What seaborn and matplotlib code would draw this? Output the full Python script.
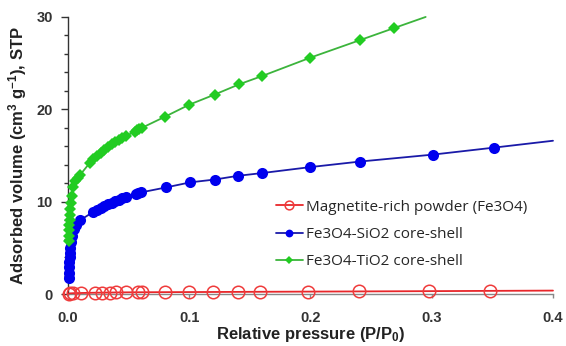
import matplotlib
matplotlib.use("Agg")
import matplotlib.pyplot as plt
import seaborn as sns
from matplotlib.ticker import MultipleLocator

# Datos (isotermas de adsorcion)
# Magnetita (Fe3O4)
x_fe = [0.0005, 0.0015, 0.0044, 0.011, 0.022, 0.028, 0.035, 0.040, 0.048,
        0.058, 0.061, 0.080, 0.100, 0.120, 0.140, 0.158, 0.198, 0.240, 0.298, 0.348, 0.400]
y_fe = [0.05, 0.08, 0.10, 0.12, 0.15, 0.16, 0.17, 0.18, 0.19,
        0.20, 0.20, 0.21, 0.22, 0.23, 0.24, 0.25, 0.27, 0.29, 0.32, 0.35, 0.38]

# Fe3O4-SiO2
x_si = [0.0006, 0.0008, 0.0010, 0.0012, 0.0014, 0.0016, 0.0018, 0.0022, 0.003, 0.005,
        0.007, 0.010, 0.021, 0.024, 0.027, 0.030, 0.033, 0.036, 0.039, 0.042,
        0.045, 0.048, 0.056, 0.058, 0.060, 0.081, 0.101, 0.121, 0.140, 0.160,
        0.200, 0.241, 0.301, 0.351, 0.400]
y_si = [1.7, 2.3, 2.9, 3.5, 4.0, 4.5, 5.0, 5.6, 6.3, 7.0,
        7.5, 8.0, 8.9, 9.1, 9.3, 9.5, 9.7, 9.9, 10.05, 10.2,
        10.35, 10.5, 10.8, 10.9, 11.0, 11.55, 12.1, 12.4, 12.8, 13.1,
        13.75, 14.35, 15.1, 15.85, 16.6]

# Fe3O4-TiO2
x_ti = [0.0006, 0.0008, 0.0010, 0.0012, 0.0014, 0.0017, 0.0020, 0.0025, 0.0032, 0.0044,
        0.006, 0.008, 0.010, 0.018, 0.021, 0.024, 0.027, 0.030, 0.033, 0.036,
        0.039, 0.042, 0.045, 0.048, 0.055, 0.057, 0.059, 0.061, 0.080, 0.100,
        0.121, 0.141, 0.160, 0.200, 0.241, 0.269, 0.295]
y_ti = [5.8, 6.3, 6.9, 7.5, 8.0, 8.6, 9.2, 9.9, 10.6, 11.6,
        12.2, 12.6, 12.9, 14.2, 14.6, 14.95, 15.3, 15.6, 15.9, 16.2,
        16.45, 16.7, 16.9, 17.1, 17.6, 17.75, 17.85, 18.0, 19.2, 20.5,
        21.6, 22.7, 23.6, 25.6, 27.5, 28.8, 30.0]

etiquetas = ['Magnetite-rich powder (Fe3O4)', 'Fe3O4-SiO2 core-shell', 'Fe3O4-TiO2 core-shell']
xticks = [0.0, 0.1, 0.2, 0.3, 0.4]
xtick_labels = ['0.0', '0.1', '0.2', '0.3', '0.4']
yticks = [0, 10, 20, 30]

sns.set_style("white")
plt.rcParams['font.family'] = ['Liberation Sans', 'DejaVu Sans']
plt.rcParams['mathtext.default'] = 'regular'

fig = plt.figure(figsize=(5.66, 3.46), dpi=100)
ax = fig.add_axes([0.120, 0.150, 0.857, 0.801])

# el ultimo punto de cada serie es solo el final de la linea, sin marcador
sns.lineplot(x=x_fe, y=y_fe, ax=ax, color='#e8262a', lw=1.3, marker='o', markersize=9,
             markerfacecolor='none', markeredgecolor='#ef3b3b', markeredgewidth=1.1,
             markevery=list(range(len(x_fe) - 1)), sort=False, estimator=None,
             label=etiquetas[0], clip_on=False, zorder=3)
sns.lineplot(x=x_si, y=y_si, ax=ax, color='#1a1aa8', lw=1.3, marker='o', markersize=8,
             markerfacecolor='#0000ee', markeredgecolor='#0000ee', markeredgewidth=0,
             markevery=list(range(len(x_si) - 1)), sort=False, estimator=None,
             label=etiquetas[1], clip_on=False, zorder=3)
sns.lineplot(x=x_ti, y=y_ti, ax=ax, color='#3cb43c', lw=1.3, marker='D', markersize=6.5,
             markerfacecolor='#22cc22', markeredgecolor='#22cc22', markeredgewidth=0,
             markevery=list(range(len(x_ti) - 1)), sort=False, estimator=None,
             label=etiquetas[2], clip_on=False, zorder=3)

ax.set_xlim(0, 0.4)
ax.set_ylim(0, 30)
ax.set_xticks(xticks)
ax.set_xticklabels(xtick_labels)
ax.set_yticks(yticks)
ax.yaxis.set_minor_locator(MultipleLocator(2))

for s in ['top', 'right']:
    ax.spines[s].set_visible(False)
ax.spines['left'].set_color('#333333')
ax.spines['bottom'].set_color('#888888')
ax.spines['left'].set_linewidth(1.0)
ax.spines['bottom'].set_linewidth(1.0)

ax.tick_params(axis='y', which='major', direction='out', length=5, width=1, color='#333333',
               left=True, labelsize=10.5, pad=6)
ax.tick_params(axis='y', which='minor', direction='out', length=3, width=1, color='#333333', left=True)
ax.tick_params(axis='x', which='major', direction='out', length=3, width=1, color='#888888',
               bottom=True, labelsize=10.5, pad=9)
for t in ax.get_xticklabels() + ax.get_yticklabels():
    t.set_fontweight('bold')
    t.set_color('#333333')

ax.set_xlabel('Relative pressure (P/P$_0$)', fontsize=12, fontweight='bold', color='#222222',
              labelpad=0)
ax.set_ylabel('Adsorbed volume (cm$^3$ g$^{-1}$), STP', fontsize=12, fontweight='bold',
              color='#222222', labelpad=5)

leg = ax.legend(loc='upper left', bbox_to_anchor=(0.40, 0.39), frameon=False,
                handlelength=1.8, handletextpad=0.2, labelspacing=0.8, markerscale=0.7,
                prop={'family': ['Open Sans', 'DejaVu Sans'], 'size': 11})

fig.savefig('out.png', dpi=100)
